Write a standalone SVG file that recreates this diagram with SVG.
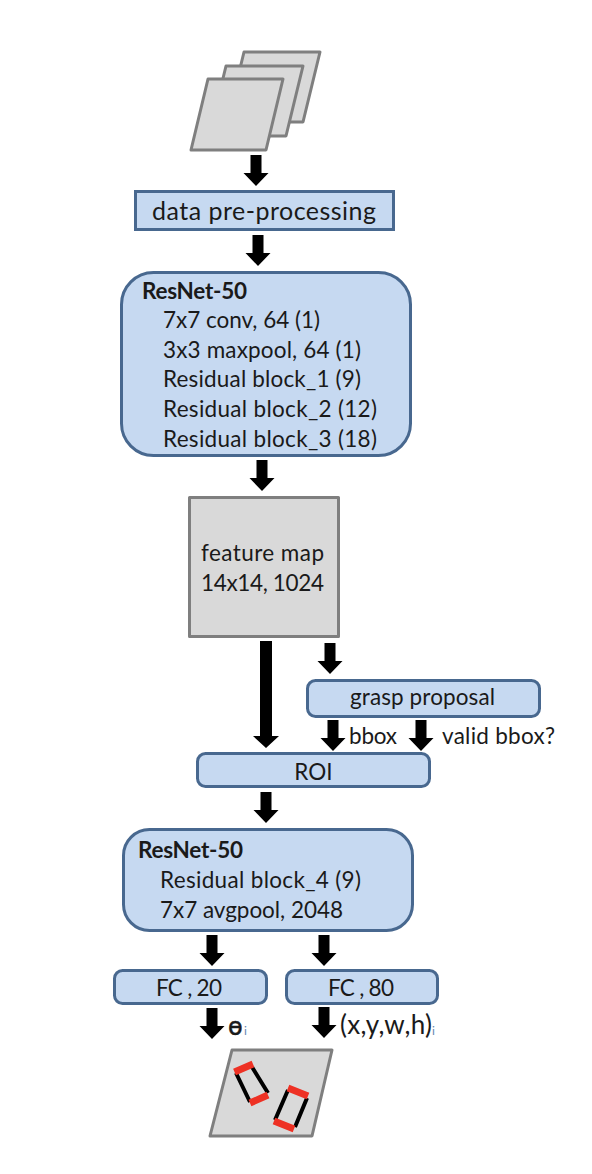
<svg xmlns="http://www.w3.org/2000/svg" width="592" height="1174" viewBox="0 0 592 1174">
<style>
.b{fill:#c6d9f1;stroke:#48688f;stroke-width:3}
.s{fill:#d9d9d9;stroke:#7f7f7f;stroke-width:3;stroke-linejoin:round}
.a{fill:#000}
text{font-family:"Lato","Open Sans","Liberation Sans",sans-serif;fill:#1a1a1a;font-size:22.500px}
.k{stroke:#000;stroke-width:4;fill:none}
.r{stroke:#ee3124;stroke-width:7;fill:none}
</style>
<defs><path id="ar" class="a" d="M-5.500-31H5.500V-13H12.500L0 0L-12.500-13H-5.500Z"/></defs>
<rect width="592" height="1174" fill="#fff"/>
<g id="input-images">
<polygon class="s" points="244,52 320,52 303,122 227,122"/>
<polygon class="s" points="226,66 303,66 286,136 209,136"/>
<polygon class="s" points="208,79 283,79 266,150 191,150"/>
</g>
<g id="preprocessing"><rect class="b" x="135.500" y="191.500" width="258" height="38"/><text x="152" y="220" style="font-size:25px" textLength="224">data pre-processing</text></g>
<g id="resnet-a"><rect class="b" x="121.500" y="272.500" width="289" height="183" rx="32"/>
<text x="142" y="299" font-weight="700" textLength="105">ResNet-50</text>
<text x="163" y="328" textLength="157">7x7 conv, 64 (1)</text>
<text x="163" y="358" textLength="198">3x3 maxpool, 64 (1)</text>
<text x="163" y="387" textLength="198">Residual block_1 (9)</text>
<text x="163" y="417" textLength="214">Residual block_2 (12)</text>
<text x="163" y="447" textLength="214">Residual block_3 (18)</text></g>
<g id="feature-map"><rect class="s" x="189.500" y="497.500" width="149" height="139"/><text x="201" y="561" textLength="123">feature map</text><text x="201" y="591" textLength="123">14x14, 1024</text></g>
<g id="grasp-proposal"><rect class="b" x="307.500" y="680.500" width="232" height="36" rx="8"/><text x="350" y="705" textLength="145">grasp proposal</text></g>
<g id="roi"><rect class="b" x="197.500" y="753.500" width="232" height="33" rx="8"/><text x="313.500" y="780" text-anchor="middle">ROI</text></g>
<g id="resnet-b"><rect class="b" x="123.500" y="829.500" width="289" height="101" rx="26"/>
<text x="138" y="858" font-weight="700" textLength="105">ResNet-50</text>
<text x="160" y="888" textLength="201">Residual block_4 (9)</text>
<text x="160" y="918" textLength="183">7x7 avgpool, 2048</text></g>
<g id="fc-20"><rect class="b" x="114.500" y="970.500" width="152" height="33" rx="8"/><text x="156" y="996" textLength="66">FC , 20</text></g>
<g id="fc-80"><rect class="b" x="286.500" y="970.500" width="151" height="33" rx="8"/><text x="328" y="996" textLength="66">FC , 80</text></g>
<g id="output-image">
<polygon class="s" points="232,1050 332,1050 312,1136 210,1136"/>
<path class="k" d="M236,1073 250,1102M252,1067 268,1093M288,1090 275,1120M307,1098 295,1127"/>
<path class="r" d="M234.500,1072 253,1064M250,1103 268,1095M288,1088 308,1096M274,1121 294,1129"/>
</g>
<g id="labels">
<text x="349" y="744" textLength="48">bbox</text><text x="442" y="744" textLength="113">valid bbox?</text>
<text x="228" y="1035" style="font-family:'DejaVu Sans',sans-serif;font-size:24px;font-weight:400" stroke="#1a1a1a" stroke-width=".5">ɵ</text><text x="244" y="1035" style="font-size:12px;fill:#5f86b0">i</text>
<text x="340" y="1034" style="font-size:26px" textLength="92">(x,y,w,h)</text><text x="432" y="1035" style="font-size:12px;fill:#5f86b0">i</text>
</g>
<g id="connectors">
<use href="#ar" x="256" y="186"/>
<use href="#ar" x="258" y="266"/>
<use href="#ar" x="262" y="491"/>
<path class="a" d="M260,641H272V736H279L266,748L253,736H260Z"/>
<use href="#ar" x="330" y="674"/>
<use href="#ar" x="333" y="751"/>
<use href="#ar" x="421" y="751"/>
<use href="#ar" x="266" y="823"/>
<use href="#ar" x="212" y="966"/>
<use href="#ar" x="324" y="966"/>
<use href="#ar" x="212" y="1039"/>
<use href="#ar" x="324" y="1038"/>
</g>
</svg>
